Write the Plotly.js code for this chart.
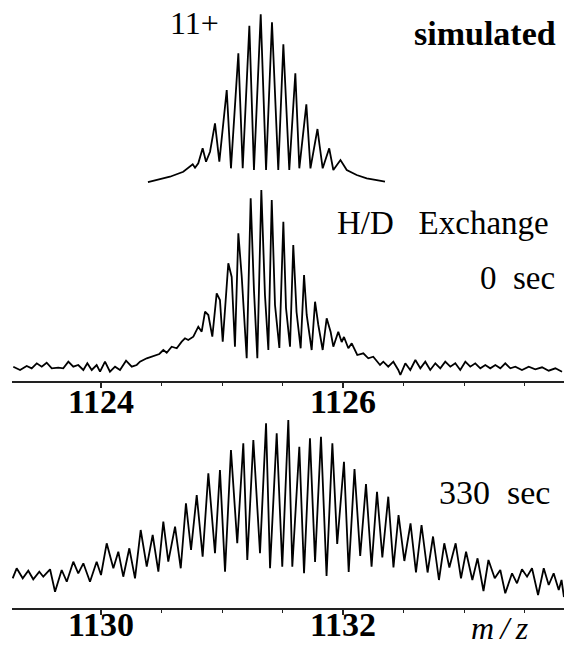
<!DOCTYPE html>
<html>
<head>
<meta charset="utf-8">
<script src="https://cdn.plot.ly/plotly-3.0.1.min.js"></script>
<style>
html,body{margin:0;padding:0;background:#fff;}
#chart{width:564px;height:645px;}
</style>
</head>
<body>
<div id="chart"></div>
<script>
// Simulated 11+ isotopic distribution (m/z, relative intensity)
const simMz = [1124.388,1124.488,1124.570,1124.680,1124.736,1124.758,1124.777,1124.804,1124.840,1124.868,1124.901,1124.942,1124.978,1125.039,1125.074,1125.135,1125.171,1125.226,1125.264,1125.320,1125.364,1125.413,1125.465,1125.507,1125.556,1125.606,1125.639,1125.697,1125.731,1125.789,1125.806,1125.832,1125.886,1125.920,1125.979,1126.031,1126.113,1126.196,1126.279,1126.347];
const simInt = [8,10.5,13.3,18.3,23.3,25.7,22.3,26.7,41.7,28.3,38.3,66.7,28.3,100,21.7,136.7,21.7,164.3,20,175.7,20,167.7,20,145.7,20,116.7,21.7,85.7,21.7,61,45,21.7,41.7,20,30,20,15,11.7,10,8.3];

// H/D exchange, 0 sec
const t0Mz = [1123.275,1123.331,1123.386,1123.427,1123.469,1123.510,1123.551,1123.593,1123.647,1123.688,1123.730,1123.771,1123.812,1123.854,1123.887,1123.923,1123.964,1123.992,1124.033,1124.074,1124.116,1124.157,1124.207,1124.254,1124.295,1124.322,1124.378,1124.432,1124.482,1124.515,1124.543,1124.584,1124.626,1124.667,1124.694,1124.721,1124.763,1124.804,1124.832,1124.860,1124.887,1124.920,1124.956,1124.983,1125.006,1125.052,1125.080,1125.107,1125.135,1125.163,1125.204,1125.237,1125.264,1125.292,1125.325,1125.355,1125.383,1125.411,1125.438,1125.474,1125.507,1125.529,1125.562,1125.589,1125.616,1125.650,1125.678,1125.700,1125.741,1125.769,1125.796,1125.832,1125.865,1125.898,1125.920,1125.961,1125.989,1126.008,1126.044,1126.072,1126.118,1126.168,1126.209,1126.250,1126.306,1126.333,1126.374,1126.416,1126.457,1126.474,1126.515,1126.556,1126.598,1126.639,1126.680,1126.721,1126.763,1126.804,1126.845,1126.887,1126.928,1126.969,1127.011,1127.052,1127.093,1127.135,1127.176,1127.217,1127.259,1127.300,1127.341,1127.383,1127.424,1127.479,1127.535,1127.589,1127.645,1127.700,1127.755,1127.810];
const t0Int = [14.3,11,15,12.7,17.7,14.3,18.3,12.7,13.3,12.7,19.3,14.3,16,11,17.7,11,16,9.3,19.3,9.3,14.3,11,20.3,14.3,16,19.3,22.7,25,27,31,28.3,34.3,32.7,39.3,42.7,41,44.3,54.3,49.3,69.3,66,44.3,87.7,81,39.3,117.7,104,34.3,147.7,104.3,22.7,182.7,91,22.7,191,86,31,181,76,33,159.3,73,34.3,136,69,32.7,106,66,31,79.3,56,31,62.7,49,34.3,49.3,39,44,32.7,37.7,26,27.7,22.7,24.3,16,19.3,14.3,19.3,11,6,17.7,11,21,12.7,19.3,11,17.7,12.7,19.3,14.3,17.7,11,19.3,14.3,17.7,12.7,16,12.7,16,12.7,17.7,12.7,14.3,11,14.3,11.7,13.7,10.3,12.7,9.3];

// H/D exchange, 330 sec
const t330Mz = [1129.270,1129.303,1129.353,1129.399,1129.440,1129.490,1129.523,1129.579,1129.620,1129.675,1129.717,1129.771,1129.812,1129.854,1129.909,1129.964,1130.000,1130.047,1130.102,1130.143,1130.184,1130.234,1130.281,1130.328,1130.378,1130.427,1130.474,1130.515,1130.556,1130.612,1130.659,1130.702,1130.744,1130.791,1130.840,1130.887,1130.942,1130.983,1131.025,1131.074,1131.126,1131.176,1131.209,1131.259,1131.314,1131.364,1131.397,1131.452,1131.498,1131.548,1131.581,1131.639,1131.678,1131.727,1131.769,1131.818,1131.864,1131.912,1131.952,1132.008,1132.047,1132.095,1132.142,1132.190,1132.236,1132.281,1132.325,1132.374,1132.417,1132.459,1132.507,1132.558,1132.603,1132.649,1132.699,1132.744,1132.793,1132.837,1132.879,1132.931,1132.975,1133.017,1133.069,1133.112,1133.161,1133.202,1133.254,1133.300,1133.341,1133.397,1133.438,1133.479,1133.521,1133.562,1133.612,1133.659,1133.700,1133.741,1133.783,1133.806,1133.826];
const t330Int = [29.7,39.7,29.7,37.3,28.7,36.3,31.3,38.7,16.3,38,26.3,46.3,34.7,44.7,26.3,46.3,33,64.7,39.7,56.3,31.3,59.7,29.7,78,41.3,73,36.3,86.3,46.3,81.3,39.7,104.7,58,113,51.3,134.7,54.7,138,36.3,158,64.7,164.7,48,168,54.7,184.7,39.7,174.7,41.3,188,41.3,161.3,34.7,169.7,46,171.3,32,164.7,64,146.3,36,139,52,124,41.3,116.3,50.5,111.3,40.5,93,47,84.7,35.5,83,35.5,71.5,28,64.7,40.5,64.7,29.7,56.3,28,49.7,17,48,29.7,38,14.7,34.7,24.7,38.7,31.3,39.7,13,39.7,23,34.7,18,28,11];

const tickTop = [1124, 1126];
const tickTopText = ['1124', '1126'];
const minorTop = [1124.5, 1125, 1125.5, 1126.5, 1127, 1127.5];
const tickBot = [1130, 1132];
const tickBotText = ['1130', '1132'];
const minorBot = [1130.5, 1131, 1131.5, 1132.5, 1133, 1133.5];

const lineStyle = {color: '#000', width: 1.8};
const serif = 'Liberation Serif, Times New Roman, serif';

const traces = [
  {x: simMz, y: simInt, xaxis: 'x', yaxis: 'y3', mode: 'lines', line: lineStyle, hoverinfo: 'skip'},
  {x: t0Mz, y: t0Int, xaxis: 'x', yaxis: 'y', mode: 'lines', line: lineStyle, hoverinfo: 'skip'},
  {x: t330Mz, y: t330Int, xaxis: 'x2', yaxis: 'y2', mode: 'lines', line: lineStyle, hoverinfo: 'skip'}
];

function xAxis(range, anchor, tv, tt, mv, standoff) {
  return {
    domain: [0.0213, 1], range: range, anchor: anchor,
    showline: true, linecolor: '#222', linewidth: 1.5,
    showgrid: false, zeroline: false,
    ticks: 'outside', ticklen: 5, tickwidth: 1.5, tickcolor: '#222',
    tickmode: 'array', tickvals: tv, ticktext: tt,
    ticklabelstandoff: standoff,
    tickfont: {family: serif, size: 34, color: '#000', weight: 'bold'},
    minor: {tickmode: 'array', tickvals: mv, ticks: 'outside', ticklen: 3, tickwidth: 1, tickcolor: '#222', showgrid: false}
  };
}

const layout = {
  width: 564, height: 645,
  margin: {l: 0, r: 0, t: 0, b: 0},
  paper_bgcolor: '#fff', plot_bgcolor: 'rgba(0,0,0,0)',
  showlegend: false,
  xaxis: xAxis([1123.2645, 1127.8264], 'y', tickTop, tickTopText, minorTop, -15),
  xaxis2: xAxis([1129.2645, 1133.8264], 'y2', tickBot, tickBotText, minorBot, -19),
  yaxis: {domain: [0.4093, 0.71318], range: [0, 196], visible: false},
  yaxis2: {domain: [0.05736, 0.35659], range: [0, 193], visible: false},
  yaxis3: {domain: [0.7054, 1], range: [0, 190], visible: false, anchor: 'x'},
  annotations: [
    {text: '11+', xref: 'paper', yref: 'paper', x: 0.3457, y: 0.9643, xanchor: 'center', yanchor: 'middle', showarrow: false, font: {family: serif, size: 32, color: '#000'}},
    {text: 'simulated', xref: 'paper', yref: 'paper', x: 0.9894, y: 0.9488, xanchor: 'right', yanchor: 'middle', showarrow: false, font: {family: serif, size: 34, color: '#000', weight: 'bold'}},
    {text: 'H/D\u00A0\u00A0\u00A0Exchange', xref: 'paper', yref: 'paper', x: 0.9770, y: 0.6543, xanchor: 'right', yanchor: 'middle', showarrow: false, font: {family: serif, size: 33, color: '#000'}},
    {text: '0\u00A0\u00A0sec', xref: 'paper', yref: 'paper', x: 0.9876, y: 0.5690, xanchor: 'right', yanchor: 'middle', showarrow: false, font: {family: serif, size: 33, color: '#000'}},
    {text: '330\u00A0\u00A0sec', xref: 'paper', yref: 'paper', x: 0.9787, y: 0.2357, xanchor: 'right', yanchor: 'middle', showarrow: false, font: {family: serif, size: 34, color: '#000'}},
    {text: 'm\u2009/\u2009z', xref: 'paper', yref: 'paper', x: 0.8865, y: 0.0264, xanchor: 'center', yanchor: 'middle', showarrow: false, font: {family: serif, size: 32, color: '#000', style: 'italic'}}
  ]
};

Plotly.newPlot('chart', traces, layout, {staticPlot: true, displayModeBar: false});
</script>
</body>
</html>
